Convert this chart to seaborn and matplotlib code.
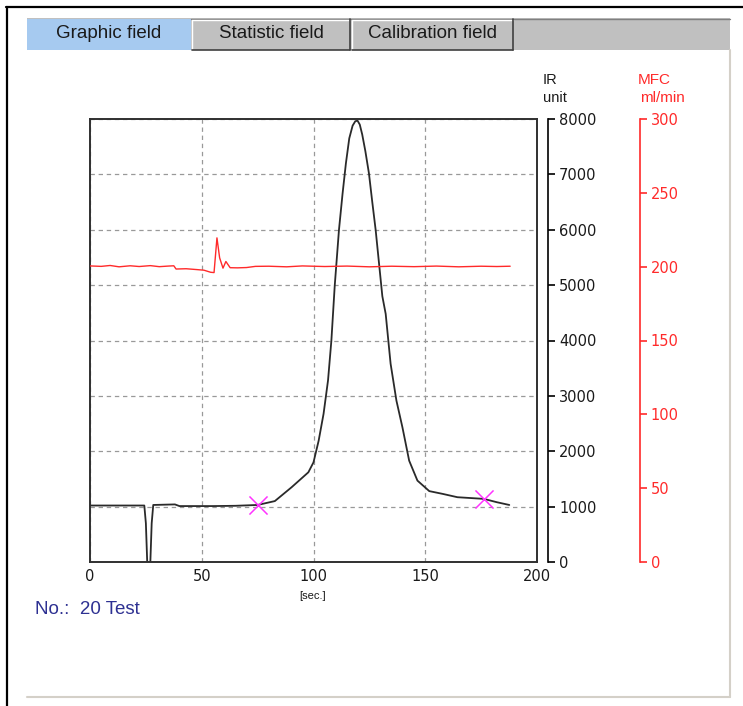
import numpy as np
import pandas as pd
import seaborn as sns
from matplotlib import pyplot as plt
from matplotlib.patches import Rectangle
from matplotlib.lines import Line2D

# IR signal (black trace)
ir_time = [0, 10, 24.3, 25.0, 25.6, 27.0, 27.6, 28.3, 38, 40, 55, 65, 75, 82.7, 90.2,
           97.7, 100, 102.3, 104.5, 106.5, 108, 109.5, 111.4, 113, 114.5, 116,
           117.5, 118.7, 119.7, 120.7, 121.8, 123.2, 124.8, 126.3, 127.8, 129.3,
           130.8, 132.3, 134.5, 137.1, 139.8, 142.8, 146.5, 151.8, 157.8, 164.4,
           176.2, 182, 187.6]
ir_value = [1020, 1020, 1020, 700, 0, 0, 700, 1030, 1040, 1010, 1010, 1015, 1030, 1100, 1350,
            1620, 1800, 2190, 2675, 3280, 4000, 4990, 6000, 6650, 7200, 7650,
            7880, 7960, 7970, 7900, 7720, 7420, 7020, 6500, 6000, 5400,
            4800, 4480, 3580, 2915, 2430, 1830, 1470, 1280, 1230, 1170,
            1140, 1080, 1030]

# MFC flow (red trace)
mfc_time = [0, 5, 9, 13, 18, 22, 27, 31, 35, 37.5, 38.5, 43, 48, 51, 54, 55.5,
            56.8, 58, 59.5, 60.8, 62.7, 66, 70, 74, 80, 88, 95, 105, 115, 125,
            135, 145, 155, 165, 175, 182, 188]
mfc_value = [200.5, 200.2, 200.8, 199.9, 200.6, 200.1, 200.7, 200.0, 200.4, 200.6, 198.4,
             198.6, 198.0, 197.6, 196.2, 196.0, 219.5, 206, 199.0, 203.5, 199.3, 199.2,
             199.4, 200.2, 200.3, 199.9, 200.5, 200.1, 200.4, 199.9, 200.3, 200.0,
             200.4, 199.9, 200.3, 200.1, 200.3]

# integration limits (magenta crosses)
mark_time = [75, 176.2]
mark_value = [1030, 1140]

x_ticks = [0, 50, 100, 150, 200]
ir_ticks = [0, 1000, 2000, 3000, 4000, 5000, 6000, 7000, 8000]
mfc_ticks = [0, 50, 100, 150, 200, 250, 300]
tab_names = ['Graphic field', 'Statistic field', 'Calibration field']

W, H = 743, 706


def fx(x):
    return x / W


def fy(y):
    return 1 - y / H


sns.set_theme(style='white')
plt.rcParams['font.family'] = ['Liberation Sans', 'DejaVu Sans']

fig = plt.figure(figsize=(W / 100, H / 100), dpi=100)

# window chrome
fig.add_artist(Line2D([fx(6), fx(743)], [fy(7), fy(7)], color='black', lw=1.6))
fig.add_artist(Line2D([fx(7), fx(7)], [fy(7), fy(706)], color='black', lw=1.6))
fig.add_artist(Line2D([fx(730), fx(730)], [fy(50), fy(697)], color='#d4d0c8', lw=1.5))
fig.add_artist(Line2D([fx(27), fx(730)], [fy(697), fy(697)], color='#d4d0c8', lw=1.5))

# tab bar
fig.add_artist(Rectangle((fx(27), fy(50)), fx(730) - fx(27), fy(18) - fy(50),
                         facecolor='#c0c0c0', edgecolor='none'))
fig.add_artist(Rectangle((fx(27), fy(50)), fx(191) - fx(27), fy(19) - fy(50),
                         facecolor='#a6caf0', edgecolor='none'))
fig.add_artist(Line2D([fx(191), fx(730)], [fy(18.5), fy(18.5)], color='#808080', lw=1))
for x0, x1 in [(192, 350), (352, 513)]:
    fig.add_artist(Line2D([fx(x0), fx(x1)], [fy(20), fy(20)], color='white', lw=1))
    fig.add_artist(Line2D([fx(x0), fx(x0)], [fy(20), fy(49)], color='white', lw=1))
    fig.add_artist(Line2D([fx(x1), fx(x1)], [fy(19), fy(50)], color='#404040', lw=1.2))
    fig.add_artist(Line2D([fx(x0), fx(x1)], [fy(49.5), fy(49.5)], color='#404040', lw=1.2))
for name, xc in zip(tab_names, [109, 271, 433]):
    fig.text(fx(xc), fy(34), name, ha='center', va='center', fontsize=13.5, color='#1a1a1a')

# plot area
ax = fig.add_axes([fx(90), fy(562), fx(537) - fx(90), fy(119) - fy(562)])
ax.set_facecolor('white')
sns.lineplot(x=ir_time, y=ir_value, ax=ax, color='#2a2a2a', lw=1.3, sort=False)
sns.scatterplot(x=mark_time, y=mark_value, ax=ax, marker='x', s=170, color='#ff33ff',
                linewidths=1.1, zorder=5)
ax.set_xlim(0, 200)
ax.set_ylim(0, 8000)
ax.set_xticks(x_ticks)
ax.set_yticks(ir_ticks)
ax.grid(True, color='#999999', ls=(0, (3.5, 3)), lw=0.9)
for s in ax.spines.values():
    s.set_visible(True)
    s.set_color('#303030')
    s.set_linewidth(1.4)
ax.set_xlabel('')
ax.set_ylabel('')
fig.text(fx(313), fy(596), '[sec.]', ha='center', va='center', fontsize=8, color='#1a1a1a')

# IR scale
ax_ir = ax.twinx()
ax_ir.set_ylim(0, 8000)
ax_ir.set_yticks(ir_ticks)
for k in ['left', 'top', 'bottom']:
    ax_ir.spines[k].set_visible(False)
ax_ir.spines['right'].set_visible(True)
ax_ir.spines['right'].set_position(('outward', 8))
ax_ir.spines['right'].set_color('black')
ax_ir.spines['right'].set_linewidth(1.2)
ax_ir.tick_params(axis='y', right=True, direction='out', length=5, width=1.2, color='black',
                  pad=3, labelsize=10.5, labelcolor='#1a1a1a')
for lab in ax_ir.get_yticklabels():
    lab.set_family('DejaVu Sans')
fig.text(fx(543), fy(80), 'IR', ha='left', va='center', fontsize=10.5, color='#1a1a1a')
fig.text(fx(543), fy(98), 'unit', ha='left', va='center', fontsize=10.5, color='#1a1a1a')

# MFC scale
red = '#ff2a2a'
ax_mfc = ax.twinx()
sns.lineplot(x=mfc_time, y=mfc_value, ax=ax_mfc, color=red, lw=1.0, sort=False)
ax_mfc.set_ylim(0, 300)
ax_mfc.set_yticks(mfc_ticks)
ax_mfc.set_ylabel('')
for k in ['left', 'top', 'bottom']:
    ax_mfc.spines[k].set_visible(False)
ax_mfc.spines['right'].set_visible(True)
ax_mfc.spines['right'].set_position(('outward', 74))
ax_mfc.spines['right'].set_color(red)
ax_mfc.spines['right'].set_linewidth(1.2)
ax_mfc.tick_params(axis='y', right=True, direction='out', length=5, width=1.2, color=red,
                   pad=3, labelsize=10.5, labelcolor=red)
for lab in ax_mfc.get_yticklabels():
    lab.set_family('DejaVu Sans')
fig.text(fx(638), fy(80), 'MFC', ha='left', va='center', fontsize=11, color=red)
fig.text(fx(640), fy(98), 'ml/min', ha='left', va='center', fontsize=11, color=red)

# main axes: grid only on y, labels only on x
ax.tick_params(axis='y', which='both', left=False, right=False, labelleft=False,
               labelright=False, length=0)
ax.tick_params(axis='x', which='both', bottom=True, top=False, length=0, pad=5,
               labelsize=10.5, labelcolor='#1a1a1a')
for lab in ax.get_xticklabels():
    lab.set_family('DejaVu Sans')

fig.text(fx(35), fy(610), 'No.:  20 Test', ha='left', va='center', fontsize=13.5, color='#2e3192')

fig.savefig('out.png', dpi=100)
